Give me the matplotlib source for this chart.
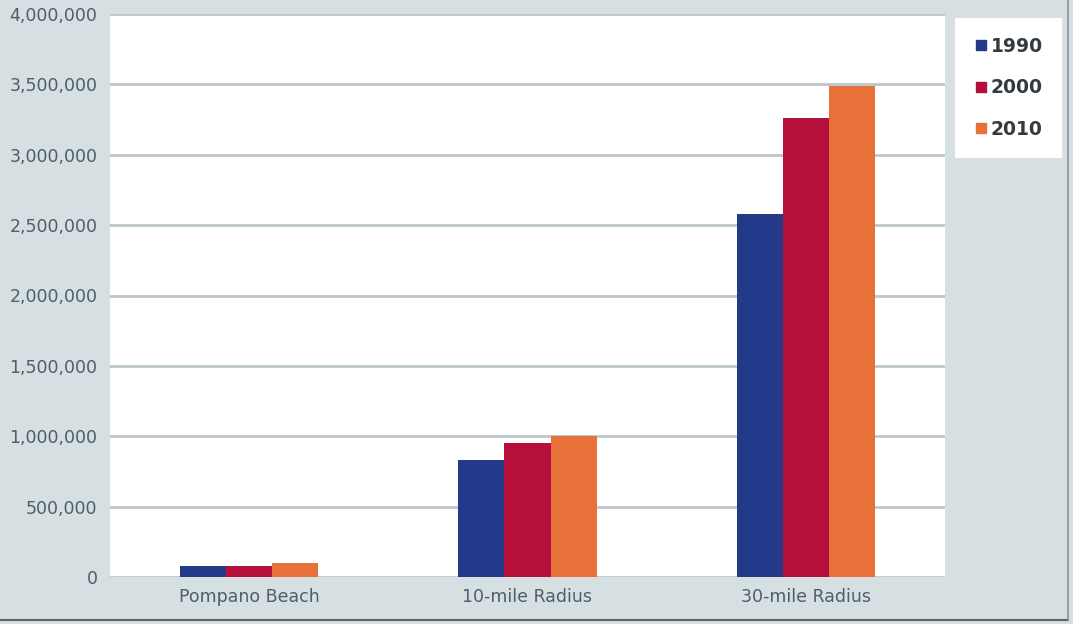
#!/usr/bin/env python3
import matplotlib

matplotlib.use("Agg")
import matplotlib.pyplot as plt
from matplotlib.lines import Line2D
from matplotlib.ticker import FuncFormatter, MultipleLocator
import numpy as np

categories = ["Pompano Beach", "10-mile Radius", "30-mile Radius"]
years = ["1990", "2000", "2010"]
pop_1990 = [75000, 830000, 2580000]
pop_2000 = [78000, 955000, 3260000]
pop_2010 = [100000, 1000000, 3490000]
colors = ["#233a8b", "#b50f3c", "#e8713a"]

BG = "#d6dfe2"
TXT = "#4f5f67"

fig = plt.figure(figsize=(10.73, 6.24), dpi=100, facecolor=BG)
ax = fig.add_axes([110 / 1073, 1 - 577 / 624, 835 / 1073, (577 - 14) / 624])
ax.set_facecolor("white")

x = np.arange(len(categories))
w = 0.166
for i, (vals, c) in enumerate(zip([pop_1990, pop_2000, pop_2010], colors)):
    ax.bar(x + (i - 1) * w, vals, width=w, color=c, zorder=3)

ax.set_xlim(-0.5, 2.5)
ax.set_ylim(0, 4000000)
ax.yaxis.set_major_locator(MultipleLocator(500000))
ax.yaxis.set_major_formatter(FuncFormatter(lambda v, p: f"{int(v):,}"))
ax.set_xticks(x)
ax.set_xticklabels(categories)
ax.grid(axis="y", color="#bcc6ca", linewidth=2.0, zorder=1)
ax.tick_params(axis="both", length=0, colors=TXT, labelsize=12.5)
ax.tick_params(axis="y", pad=9)
ax.tick_params(axis="x", pad=8)
for s in ax.spines.values():
    s.set_visible(False)

handles = [Line2D([], [], marker="s", linestyle="none", markersize=7,
                  color=c) for c in colors]
leg = fig.legend(handles, years, loc="upper left",
                 bbox_to_anchor=(955 / 1073, 1 - 18 / 624),
                 frameon=True, fancybox=False, framealpha=1,
                 facecolor="white", edgecolor="white",
                 handlelength=0.8, handletextpad=0.1, labelspacing=1.2,
                 borderpad=1.0, prop={"size": 13.5, "weight": "semibold"},
                 borderaxespad=0)
for t in leg.get_texts():
    t.set_color("#333b40")
leg.get_frame().set_linewidth(0)

# frame edges at the bottom and right of the picture
fig.add_artist(Line2D([0, 1068 / 1073], [4 / 624, 4 / 624],
                      transform=fig.transFigure, color="#5d6468", linewidth=1.5))
fig.add_artist(Line2D([1068 / 1073, 1068 / 1073], [4 / 624, 1],
                      transform=fig.transFigure, color="#8a9498", linewidth=1.2))

fig.savefig("out.png", dpi=100, facecolor=BG)
